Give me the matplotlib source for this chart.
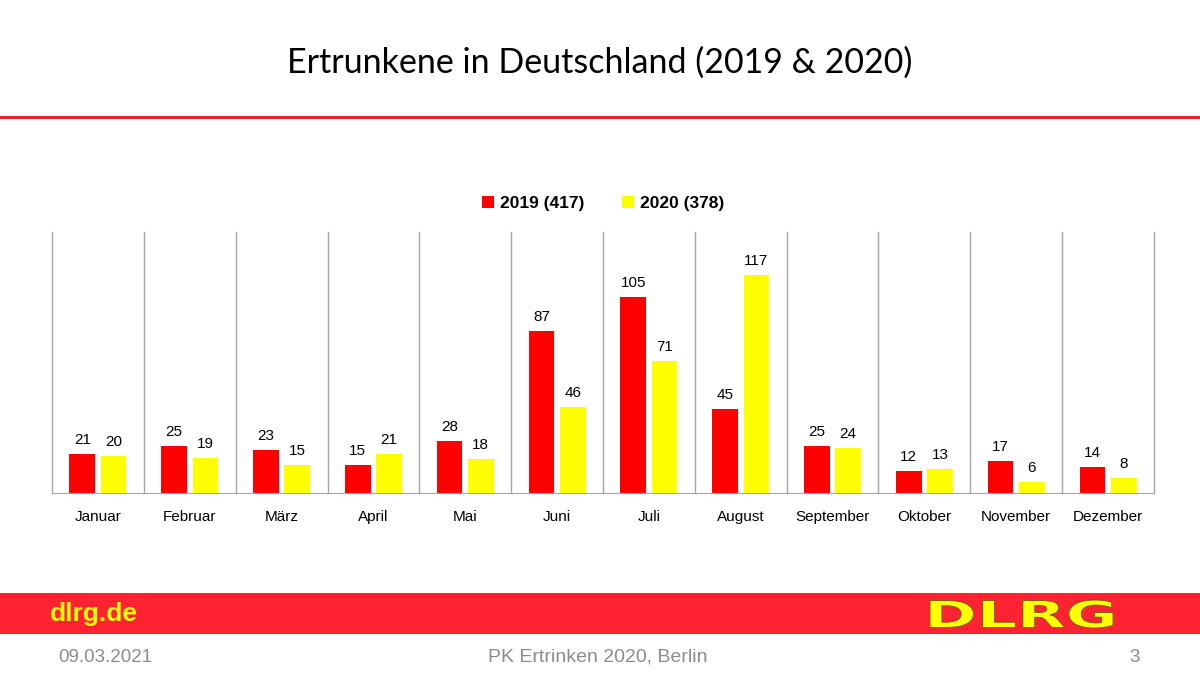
import numpy as np
import matplotlib.pyplot as plt
from matplotlib.patches import Rectangle, PathPatch
from matplotlib.textpath import TextPath
from matplotlib.font_manager import FontProperties
from matplotlib.transforms import Affine2D, IdentityTransform

months = ['Januar', 'Februar', 'März', 'April', 'Mai', 'Juni', 'Juli',
          'August', 'September', 'Oktober', 'November', 'Dezember']
deaths_2019 = [21, 25, 23, 15, 28, 87, 105, 45, 25, 12, 17, 14]
deaths_2020 = [20, 19, 15, 21, 18, 46, 71, 117, 24, 13, 6, 8]
label_2019 = '2019 (417)'
label_2020 = '2020 (378)'

plt.rcParams['font.family'] = ['Liberation Sans', 'DejaVu Sans']

fig = plt.figure(figsize=(12, 6.75), dpi=100)

# title + red rule
fig.text(0.5, 1 - 63 / 675, 'Ertrunkene in Deutschland (2019 & 2020)',
         ha='center', va='center', fontsize=24.5, family=['Lato', 'DejaVu Sans'])
fig.add_artist(Rectangle((0, 1 - 119 / 675), 1, 3 / 675, transform=fig.transFigure,
                         color='#E3262C', lw=0))

# chart
ax = fig.add_axes([52 / 1200, 1 - 493 / 675, (1154 - 52) / 1200, (493 - 232) / 675])
x = np.arange(len(months))
w = 0.28
off = 0.17
b1 = ax.bar(x - off, deaths_2019, w, color='#FF0000', label=label_2019)
b2 = ax.bar(x + off, deaths_2020, w, color='#FFFF00', label=label_2020)
ax.bar_label(b1, padding=5, fontsize=11)
ax.bar_label(b2, padding=5, fontsize=11)
ax.set_xlim(-0.5, len(months) - 0.5)
ax.set_ylim(0, 140)
ax.set_yticks([])
ax.set_xticks(x)
ax.set_xticklabels(months, fontsize=11)
ax.tick_params(axis='x', length=0, pad=12)
for b in np.arange(-0.5, len(months)):
    ax.axvline(b, color='#A6A6A6', lw=1, zorder=0, clip_on=False)
for s in ['top', 'left', 'right']:
    ax.spines[s].set_visible(False)
ax.spines['bottom'].set_color('#A6A6A6')

leg = ax.legend(loc='lower center', bbox_to_anchor=(0.5, 1.02), ncol=2, frameon=False,
                prop={'weight': 'bold', 'size': 12.5}, handlelength=0.7, handleheight=0.7,
                handletextpad=0.3, columnspacing=2.2)

# footer band
fig.add_artist(Rectangle((0, 1 - 634 / 675), 1, 41 / 675, transform=fig.transFigure,
                         color='#FF2232', lw=0))
fig.text(50 / 1200, 1 - 614 / 675, 'dlrg.de', ha='left', va='center',
         fontsize=19, fontweight='bold', color='#FFFF00')

# DLRG logo as a stretched text path (pixel coords)
tp = TextPath((0, 0), 'DLRG', size=1,
              prop=FontProperties(family='DejaVu Sans', weight='heavy'))
ext = tp.get_extents()
sx = 183 / ext.width
sy = 28 / ext.height
logo_tr = Affine2D().translate(-ext.x0, -ext.y0).scale(sx, sy).translate(930, 675 - 628)
fig.add_artist(PathPatch(tp, transform=logo_tr + IdentityTransform(),
                         facecolor='#FFFF00', edgecolor='#6B5A00', lw=0.6))

fig.text(58 / 1200, 1 - 657 / 675, '09.03.2021', ha='left', va='center',
         fontsize=13.5, color='#8C8C8C')
fig.text(598 / 1200, 1 - 657 / 675, 'PK Ertrinken 2020, Berlin', ha='center',
         va='center', fontsize=14, color='#8C8C8C')
fig.text(1140 / 1200, 1 - 657 / 675, '3', ha='right', va='center',
         fontsize=13.5, color='#8C8C8C')

fig.savefig('out.png', dpi=100)
